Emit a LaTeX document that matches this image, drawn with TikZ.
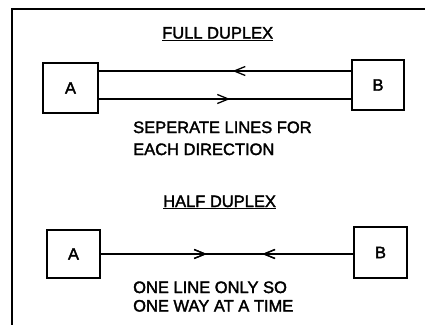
\documentclass[tikz,border=0pt]{standalone}
\usepackage{fontspec}
\newfontfamily\handfont{Liberation Sans}[FakeBold=2]
\usetikzlibrary{arrows.meta,decorations.markings}
\tikzset{
  term/.style={draw, line width=1.8pt, inner sep=0pt, font=\handfont\fontsize{16.5}{16.5}\selectfont},
  lbl/.style={anchor=base west, inner sep=0pt, font=\handfont\fontsize{16.5}{16.5}\selectfont},
  wire/.style={line width=1.3pt},
  midfwd/.style={postaction={decorate},decoration={markings,
     mark=at position #1 with {\arrow{Straight Barb[length=11pt,width=9pt,line width=1.3pt]}}}},
  midback/.style={postaction={decorate},decoration={markings,
     mark=at position #1 with {\arrowreversed{Straight Barb[length=11pt,width=9pt,line width=1.3pt]}}}}
}
\begin{document}
\begin{tikzpicture}[x=1pt,y=-1pt]
\useasboundingbox (0,0) rectangle (425,327);
% frame
\draw[line width=2pt] (425,9) -- (12,9) -- (12,325);
% full duplex
\node[lbl] (t1) at (162,38.5) {\underline{FULL DUPLEX}};
\node[term, minimum width=55pt, minimum height=50pt] (A1) at (70.5,88) {A};
\node[term, minimum width=52pt, minimum height=50pt] (B1) at (378,85) {B};
\coordinate (B1t) at ([yshift=14pt]B1.west);
\coordinate (B1b) at ([yshift=-14pt]B1.west);
\draw[wire, midfwd=0.47] (B1t) -- (B1t -| A1.east);
\draw[wire, midfwd=0.52] (B1b -| A1.east) -- (B1b);
\node[lbl] (s1) at (133,133) {SEPERATE LINES FOR};
\node[lbl] (s2) at (133,155) {EACH DIRECTION};
% half duplex
\node[lbl] (t2) at (163,207) {\underline{HALF DUPLEX}};
\node[term, minimum width=53pt, minimum height=48pt] (A2) at (73.5,254) {A};
\node[term, minimum width=53pt, minimum height=51pt] (B2) at (380.5,252.5) {B};
\draw[wire, midfwd=0.42, midback=0.64] (A2.east) -- (A2.east -| B2.west);
\node[lbl] (h1) at (133,293) {ONE LINE ONLY SO};
\node[lbl] (h2) at (133,311.5) {ONE WAY AT A TIME};
\end{tikzpicture}
\end{document}
